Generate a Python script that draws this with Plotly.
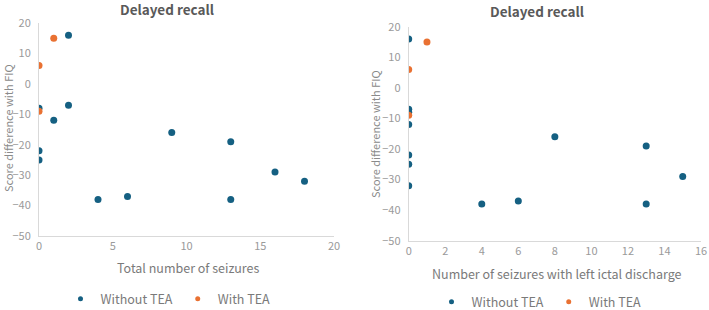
import plotly.graph_objects as go

# Left chart: total number of seizures
left_without_x = [2, 0, 2, 1, 0, 0, 9, 13, 4, 6, 13, 16, 18]
left_without_y = [16, -8, -7, -12, -22, -25, -16, -19, -38, -37, -38, -29, -32]
left_with_x = [0, 1, 0]
left_with_y = [6, 15, -9]

# Right chart: seizures with left ictal discharge
right_without_x = [0, 0, 0, 0, 0, 0, 0, 4, 6, 8, 13, 13, 15]
right_without_y = [16, -7, -8, -12, -22, -25, -32, -38, -37, -16, -19, -38, -29]
right_with_x = [0, 1, 0]
right_with_y = [6, 15, -9]

series_names = ["Without TEA", "With TEA"]
chart_title = "Delayed recall"
y_title = "Score difference with FIQ"
left_x_title = "Total number of seizures"
right_x_title = "Number of seizures with left ictal discharge"

BLUE = "#156082"
ORANGE = "#E97132"
FONT = "Noto Sans CJK JP"
W, H = 709, 310

fig = go.Figure()
pairs = [
    (left_without_x, left_without_y, BLUE, series_names[0], "x", "y", "legend"),
    (left_with_x, left_with_y, ORANGE, series_names[1], "x", "y", "legend"),
    (right_without_x, right_without_y, BLUE, series_names[0], "x2", "y2", "legend2"),
    (right_with_x, right_with_y, ORANGE, series_names[1], "x2", "y2", "legend2"),
]
for xs, ys, col, name, xa, ya, lg in pairs:
    fig.add_trace(go.Scatter(x=xs, y=ys, mode="markers", name=name, showlegend=False,
                             marker=dict(color=col, size=7), xaxis=xa, yaxis=ya))
    # legend-only entry with a small symbol, like the reference
    fig.add_trace(go.Scatter(x=[None], y=[None], mode="markers", name=name, legend=lg,
                             marker=dict(color=col, size=5), xaxis=xa, yaxis=ya))

axis_common = dict(showgrid=False, zeroline=False, showline=True, linecolor="#d9d9d9", linewidth=1,
                   ticks="", automargin=False, tickfont=dict(family=FONT, size=11, color="#9a9a9a"))

fig.update_layout(
    width=W, height=H,
    margin=dict(l=0, r=0, t=0, b=0, autoexpand=False),
    paper_bgcolor="white", plot_bgcolor="white",
    font=dict(family=FONT),
    xaxis=dict(domain=[39 / W, 334 / W], range=[0, 20], dtick=5, anchor="y", **axis_common),
    yaxis=dict(domain=[1 - 236 / H, 1 - 23 / H], range=[-50, 20], dtick=10, anchor="x",
               ticklabelstandoff=5, **axis_common),
    xaxis2=dict(domain=[408.7 / W, 701 / W], range=[0, 16], dtick=2, anchor="y2", **axis_common),
    yaxis2=dict(domain=[1 - 240.7 / H, 1 - 26.7 / H], range=[-50, 20], dtick=10, anchor="x2",
                ticklabelstandoff=5, **axis_common),
    legend=dict(orientation="h", x=168 / W, y=1 - 299 / H, xanchor="center", yanchor="middle",
                font=dict(family=FONT, size=12.5, color="#7a7a7a"), itemsizing="trace", itemwidth=30,
                bgcolor="rgba(0,0,0,0)"),
    legend2=dict(orientation="h", x=539 / W, y=1 - 302 / H, xanchor="center", yanchor="middle",
                 font=dict(family=FONT, size=12.5, color="#7a7a7a"), itemsizing="trace", itemwidth=30,
                 bgcolor="rgba(0,0,0,0)"),
)

ann = []
ann.append(dict(text="<b>" + chart_title + "</b>", x=167 / W, y=1 - 9 / H, xref="paper", yref="paper",
                showarrow=False, xanchor="center", yanchor="middle",
                font=dict(family=FONT, size=13.5, color="#595959")))
ann.append(dict(text="<b>" + chart_title + "</b>", x=537 / W, y=1 - 11 / H, xref="paper", yref="paper",
                showarrow=False, xanchor="center", yanchor="middle",
                font=dict(family=FONT, size=13.5, color="#595959")))
ann.append(dict(text=y_title, x=8 / W, y=1 - 128 / H, xref="paper", yref="paper", textangle=-90,
                showarrow=False, xanchor="center", yanchor="middle",
                font=dict(family=FONT, size=11, color="#8a8a8a")))
ann.append(dict(text=y_title, x=375 / W, y=1 - 134 / H, xref="paper", yref="paper", textangle=-90,
                showarrow=False, xanchor="center", yanchor="middle",
                font=dict(family=FONT, size=11, color="#8a8a8a")))
ann.append(dict(text=left_x_title, x=188 / W, y=1 - 267 / H, xref="paper", yref="paper",
                showarrow=False, xanchor="center", yanchor="middle",
                font=dict(family=FONT, size=12.5, color="#7a7a7a")))
ann.append(dict(text=right_x_title, x=557 / W, y=1 - 273 / H, xref="paper", yref="paper",
                showarrow=False, xanchor="center", yanchor="middle",
                font=dict(family=FONT, size=12.5, color="#7a7a7a")))
fig.update_layout(annotations=ann)

fig.write_html("out.html", config={"displayModeBar": False},
               post_script="document.body.style.margin='0';")
